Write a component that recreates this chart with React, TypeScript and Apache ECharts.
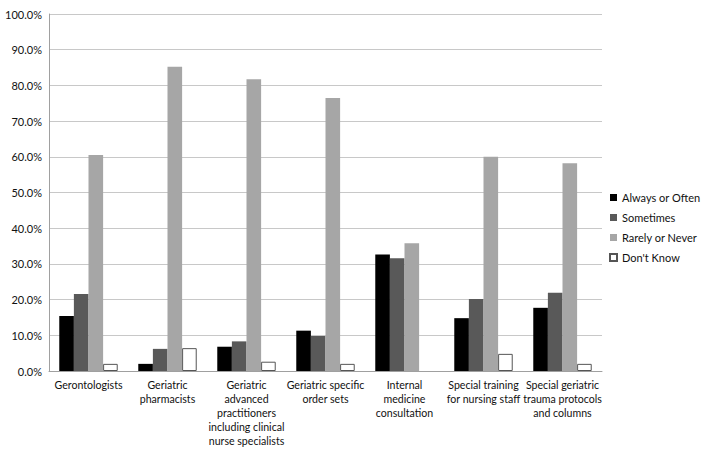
import React, { useEffect, useRef } from "react";
import * as echarts from "echarts";

const categories = [
  "Gerontologists",
  "Geriatric\npharmacists",
  "Geriatric\nadvanced\npractitioners\nincluding clinical\nnurse specialists",
  "Geriatric specific\norder sets",
  "Internal\nmedicine\nconsultation",
  "Special training\nfor nursing staff",
  "Special geriatric\ntrauma protocols\nand columns",
];
const seriesNames = ["Always or Often", "Sometimes", "Rarely or Never", "Don't Know"];
const alwaysOften = [15.4, 2.0, 6.8, 11.3, 32.6, 14.8, 17.7];
const sometimes = [21.6, 6.2, 8.3, 9.8, 31.6, 20.2, 21.9];
const rarelyNever = [60.5, 85.2, 81.7, 76.5, 35.8, 60.0, 58.2];
const dontKnow = [2.0, 6.4, 2.6, 2.0, null, 4.8, 2.0];

const colors = ["#000000", "#595959", "#a6a6a6", "#ffffff"];

export default function App() {
  const ref = useRef<HTMLDivElement>(null);
  useEffect(() => {
    if (!ref.current) return;
    const chart = echarts.init(ref.current, undefined, { renderer: "svg" });
    const data = [alwaysOften, sometimes, rarelyNever, dontKnow];
    const font = "Lato, 'Liberation Sans', sans-serif";
    chart.setOption({
      animation: false,
      backgroundColor: "#ffffff",
      textStyle: { fontFamily: font },
      grid: { left: 49, right: 99, top: 14, bottom: 82, containLabel: false },
      legend: {
        orient: "vertical",
        left: 609,
        top: 191,
        padding: 0,
        itemWidth: 7,
        itemHeight: 7,
        itemGap: 7,
        icon: "rect",
        textStyle: { fontSize: 11, color: "#111", lineHeight: 13, fontFamily: font },
        data: seriesNames,
      },
      xAxis: {
        type: "category",
        data: categories,
        axisLine: { lineStyle: { color: "#a0a0a0", width: 1 } },
        axisTick: { show: false },
        axisLabel: {
          interval: 0,
          fontSize: 10.6,
          color: "#111",
          lineHeight: 14,
          margin: 7,
          fontFamily: font,
        },
      },
      yAxis: {
        type: "value",
        min: 0,
        max: 100,
        interval: 10,
        axisLine: { show: true, lineStyle: { color: "#a0a0a0", width: 1 } },
        axisTick: { show: false },
        splitLine: { lineStyle: { color: "#c8c8c8", width: 1 } },
        axisLabel: {
          fontSize: 11,
          color: "#111",
          margin: 7,
          fontFamily: font,
          formatter: (v: number) => v.toFixed(1) + "%",
        },
      },
      series: seriesNames.map((name, i) => ({
        name,
        type: "bar",
        data: data[i],
        barGap: "0%",
        barCategoryGap: "26%",
        itemStyle: {
          color: colors[i],
          borderColor: i === 3 ? "#555555" : colors[i],
          borderWidth: i === 3 ? 1 : 0,
        },
      })),
    });
    return () => chart.dispose();
  }, []);
  return <div ref={ref} style={{ width: 701, height: 453, position: "absolute", left: 0, top: 0 }} />;
}
